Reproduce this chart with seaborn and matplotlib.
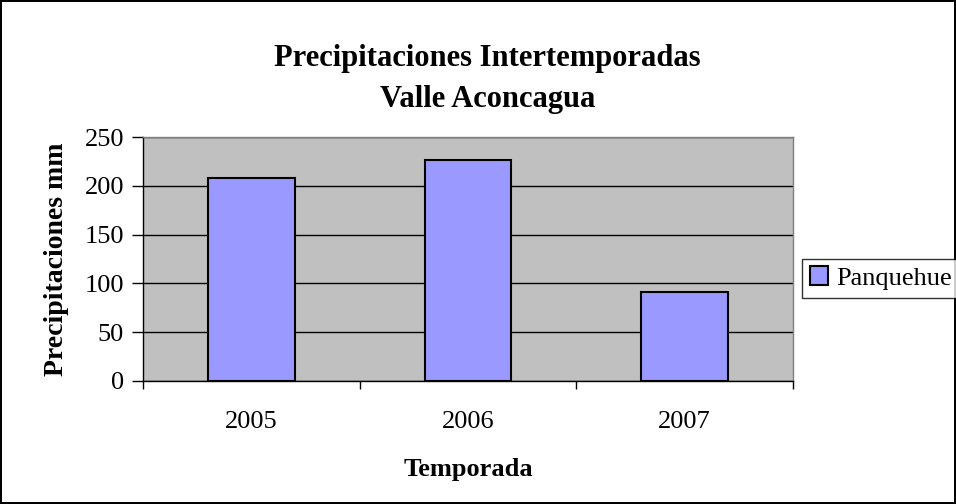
import numpy as np
import pandas as pd
import seaborn as sns
import matplotlib.pyplot as plt
from matplotlib.ticker import FixedLocator

# Data
seasons = ['2005', '2006', '2007']
rain_mm = [208, 227, 91]
series_name = 'Panquehue'

sns.set_style('white')
plt.rcParams['font.family'] = ['Liberation Serif', 'DejaVu Serif']
plt.rcParams['text.color'] = 'black'
plt.rcParams['axes.labelcolor'] = 'black'
plt.rcParams['xtick.color'] = 'black'
plt.rcParams['ytick.color'] = 'black'

df = pd.DataFrame({'Temporada': seasons, 'Precipitaciones': rain_mm, 'Serie': series_name})

fig = plt.figure(figsize=(9.56, 5.04), dpi=100)
fig.patch.set_edgecolor('black')
fig.patch.set_linewidth(1.5)
ax = fig.add_axes([0.150, 0.2446, 0.679, 0.483])
ax.set_facecolor('#C0C0C0')

sns.barplot(x='Temporada', y='Precipitaciones', hue='Serie', data=df, palette=['#9999FF'],
            saturation=1, edgecolor='black', linewidth=1.5, width=0.4, ax=ax, zorder=3)

ax.set_ylim(0, 250)
ax.set_xlim(-0.5, 2.5)
ax.set_yticks(np.arange(0, 251, 50))
ax.yaxis.grid(True, color='black', linewidth=1)
ax.set_axisbelow(True)

# category boundary ticks like Excel
ax.xaxis.set_minor_locator(FixedLocator([-0.5, 0.5, 1.5, 2.5]))
ax.tick_params(axis='x', which='major', length=0, pad=22, labelsize=19)
ax.tick_params(axis='x', which='minor', length=6, width=1, color='black', direction='out', bottom=True)
ax.tick_params(axis='y', which='major', length=8, width=1, color='black', direction='out', left=True, labelsize=19, pad=6)

for side in ['left', 'bottom']:
    ax.spines[side].set_color('black')
    ax.spines[side].set_linewidth(1)
for side in ['top', 'right']:
    ax.spines[side].set_color('#808080')
    ax.spines[side].set_linewidth(1)

ax.set_xlabel('Temporada', fontsize=19, fontweight='bold', labelpad=18)
ax.set_ylabel('Precipitaciones mm', fontsize=20, fontweight='bold', labelpad=11)

fig.text(0.51, 0.844, 'Precipitaciones Intertemporadas\nValle Aconcagua', ha='center', va='center',
         fontsize=22, fontweight='bold', linespacing=1.55)

leg = ax.legend(loc='center left', bbox_to_anchor=(0.839, 0.448), bbox_transform=fig.transFigure,
                frameon=True, fancybox=False, fontsize=19, handlelength=0.7, handleheight=0.7,
                handletextpad=0.3, borderpad=0.3, edgecolor='black', borderaxespad=0)
leg.get_frame().set_linewidth(1)

fig.savefig('out.png', dpi=100)
